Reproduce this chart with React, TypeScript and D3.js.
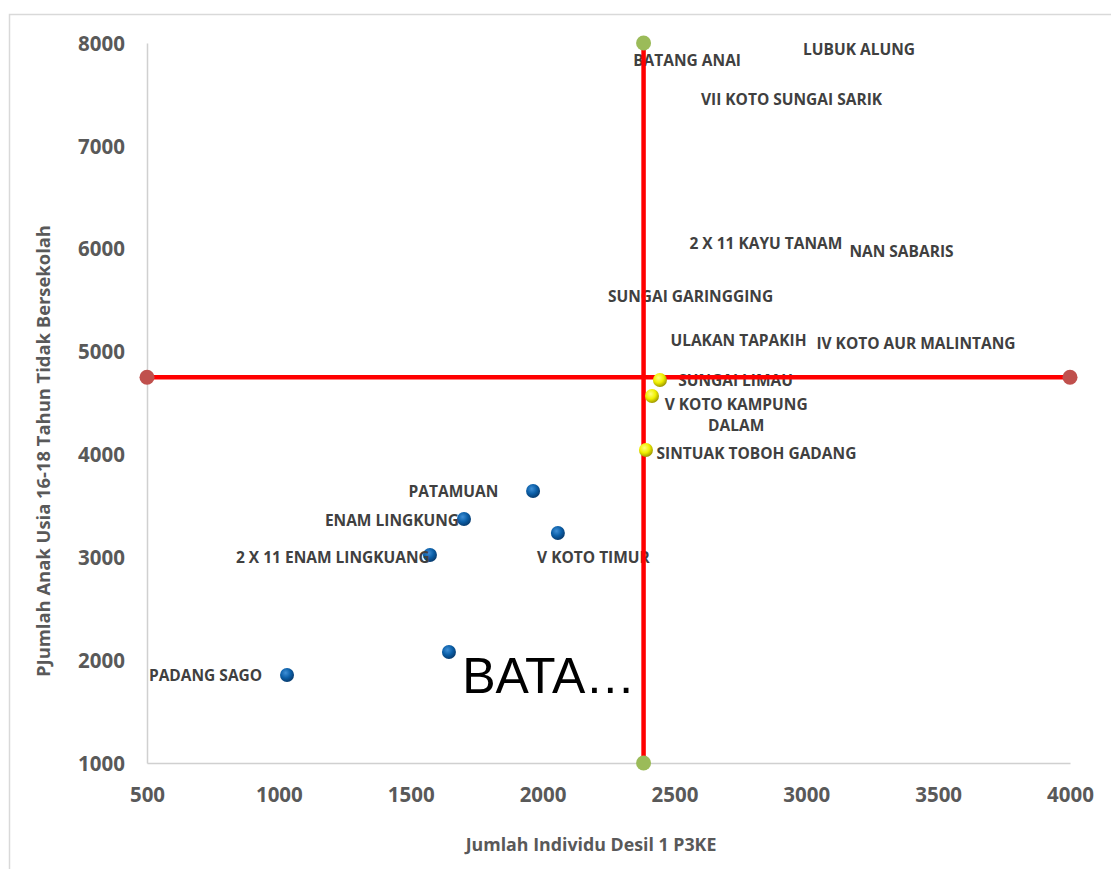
import React, { useEffect, useRef } from "react";
import * as d3 from "d3";

// ---- data ----
const quadrantX = [500, 4000];
const quadrantXY = [4750, 4750];
const quadrantYX = [2383, 2383];
const quadrantY = [8000, 1000];

const yellowX = [2445, 2415, 2392];
const yellowY = [4724, 4568, 4043];

const blueX = [1964, 1702, 2058, 1573, 1645, 1031];
const blueY = [3645, 3372, 3236, 3022, 2079, 1856];

const labelText = [
  ["BATANG ANAI"],
  ["LUBUK ALUNG"],
  ["VII KOTO SUNGAI SARIK"],
  ["2 X 11 KAYU TANAM"],
  ["NAN SABARIS"],
  ["SUNGAI GARINGGING"],
  ["ULAKAN TAPAKIH"],
  ["IV KOTO AUR MALINTANG"],
  ["SUNGAI LIMAU"],
  ["V KOTO KAMPUNG", "DALAM"],
  ["SINTUAK TOBOH GADANG"],
  ["PATAMUAN"],
  ["ENAM LINGKUNG"],
  ["2 X 11 ENAM LINGKUANG"],
  ["V KOTO TIMUR"],
  ["PADANG SAGO"],
];
const labelX = [2548, 3200, 2944, 2847, 3361, 2561, 2743, 3416, 2732, 2734, 2811, 1662, 1429, 1205, 2193, 722];
const labelY = [7825, 7932, 7446, 6046, 5968, 5531, 5103, 5074, 4714, 4481, 4004, 3635, 3353, 2993, 2993, 1846];

const bigLabel = "BATA…";
const bigLabelX = 1695;
const bigLabelY = 1846;

const xTicks = [500, 1000, 1500, 2000, 2500, 3000, 3500, 4000];
const yTicks = [1000, 2000, 3000, 4000, 5000, 6000, 7000, 8000];

const xTitle = "Jumlah Individu Desil 1 P3KE";
const yTitle = "PJumlah Anak Usia 16-18 Tahun Tidak Bersekolah";

export default function App() {
  const ref = useRef<SVGSVGElement>(null);

  useEffect(() => {
    const svg = d3.select(ref.current);
    svg.selectAll("*").remove();
    const x = d3.scaleLinear().domain([500, 4000]).range([147, 1070]);
    const y = d3.scaleLinear().domain([1000, 8000]).range([763, 43]);
    const font = "'Open Sans', 'Noto Sans', sans-serif";

    const defs = svg.append("defs");
    const mkGrad = (id: string, c0: string, c1: string, c2: string) => {
      const g = defs
        .append("radialGradient")
        .attr("id", id)
        .attr("cx", "40%")
        .attr("cy", "35%")
        .attr("r", "65%");
      g.append("stop").attr("offset", "0%").attr("stop-color", c0);
      g.append("stop").attr("offset", "55%").attr("stop-color", c1);
      g.append("stop").attr("offset", "100%").attr("stop-color", c2);
    };
    mkGrad("gBlue", "#3f8fd6", "#0b5fa8", "#073c70");
    mkGrad("gYellow", "#ffff80", "#f0f000", "#a09a00");

    // border
    svg
      .append("rect")
      .attr("x", 9.5)
      .attr("y", 14.5)
      .attr("width", 1200)
      .attr("height", 1000)
      .attr("fill", "#fff")
      .attr("stroke", "#d9d9d9")
      .attr("stroke-width", 1.5);

    const fmt = d3.format("d");

    // axes
    const xAxis = d3.axisBottom(x).tickValues(xTicks).tickFormat((d) => fmt(d as number)).tickSize(0).tickPadding(0);
    const gx = svg.append("g").attr("transform", `translate(0,${y(1000)})`).call(xAxis);
    gx.select(".domain").attr("stroke", "#d0d0d0").attr("stroke-width", 1.5);
    gx.selectAll("text")
      .attr("y", 32)
      .attr("dy", "0.35em")
      .attr("fill", "#595959")
      .style("font-family", font)
      .style("font-weight", "700")
      .style("font-size", "20.5px");

    const yAxis = d3.axisLeft(y).tickValues(yTicks).tickFormat((d) => fmt(d as number)).tickSize(0).tickPadding(0);
    const gy = svg.append("g").attr("transform", `translate(${x(500)},0)`).call(yAxis);
    gy.select(".domain").attr("stroke", "#d0d0d0").attr("stroke-width", 1.5);
    gy.selectAll("text")
      .attr("x", -22)
      .attr("dy", "0.35em")
      .attr("fill", "#595959")
      .style("font-family", font)
      .style("font-weight", "700")
      .style("font-size", "20.5px");

    // titles
    svg
      .append("text")
      .attr("x", 591)
      .attr("y", 845)
      .attr("dy", "0.35em")
      .attr("text-anchor", "middle")
      .attr("fill", "#595959")
      .style("font-family", font)
      .style("font-weight", "700")
      .style("font-size", "17.8px")
      .text(xTitle);
    svg
      .append("text")
      .attr("transform", `translate(44,451) rotate(-90)`)
      .attr("dy", "0.35em")
      .attr("text-anchor", "middle")
      .attr("fill", "#595959")
      .style("font-family", font)
      .style("font-weight", "700")
      .style("font-size", "18.4px")
      .text(yTitle);

    // blue markers
    svg
      .append("g")
      .selectAll("circle")
      .data(blueX.map((v, i) => [v, blueY[i]]))
      .join("circle")
      .attr("cx", (d) => x(d[0]))
      .attr("cy", (d) => y(d[1]))
      .attr("r", 7)
      .attr("fill", "url(#gBlue)");

    // labels
    const lg = svg.append("g");
    labelText.forEach((lines, i) => {
      const t = lg
        .append("text")
        .attr("x", x(labelX[i]))
        .attr("y", y(labelY[i]))
        .attr("text-anchor", "middle")
        .attr("fill", "#404040")
        .style("font-family", font)
        .style("font-weight", "700")
        .style("font-size", "15.5px");
      lines.forEach((ln, j) => {
        t.append("tspan")
          .attr("x", x(labelX[i]))
          .attr("dy", j === 0 ? "0.35em" : "1.35em")
          .text(ln);
      });
    });
    svg
      .append("text")
      .attr("x", x(bigLabelX))
      .attr("y", y(bigLabelY))
      .attr("dy", "0.35em")
      .attr("fill", "#000")
      .style("font-family", "'Liberation Sans', Arial, sans-serif")
      .style("font-size", "50px")
      .text(bigLabel);

    // quadrant lines
    const line = d3
      .line<[number, number]>()
      .x((d) => x(d[0]))
      .y((d) => y(d[1]));
    const hPts: [number, number][] = quadrantX.map((v, i) => [v, quadrantXY[i]]);
    const vPts: [number, number][] = quadrantYX.map((v, i) => [v, quadrantY[i]]);
    svg.append("path").attr("d", line(hPts)).attr("stroke", "#ff0000").attr("stroke-width", 4.5).attr("fill", "none");
    svg.append("path").attr("d", line(vPts)).attr("stroke", "#ff0000").attr("stroke-width", 4.5).attr("fill", "none");
    svg
      .append("g")
      .selectAll("circle")
      .data(hPts)
      .join("circle")
      .attr("cx", (d) => x(d[0]))
      .attr("cy", (d) => y(d[1]))
      .attr("r", 7.5)
      .attr("fill", "#c0504d");
    svg
      .append("g")
      .selectAll("circle")
      .data(vPts)
      .join("circle")
      .attr("cx", (d) => x(d[0]))
      .attr("cy", (d) => y(d[1]))
      .attr("r", 7.5)
      .attr("fill", "#9bbb59");

    // yellow markers
    svg
      .append("g")
      .selectAll("circle")
      .data(yellowX.map((v, i) => [v, yellowY[i]]))
      .join("circle")
      .attr("cx", (d) => x(d[0]))
      .attr("cy", (d) => y(d[1]))
      .attr("r", 7)
      .attr("fill", "url(#gYellow)");
  }, []);

  return (
    <div style={{ position: "absolute", left: 0, top: 0, width: 1111, height: 869, overflow: "hidden", background: "#fff" }}>
      <svg ref={ref} width={1111} height={869} style={{ display: "block" }} />
    </div>
  );
}
